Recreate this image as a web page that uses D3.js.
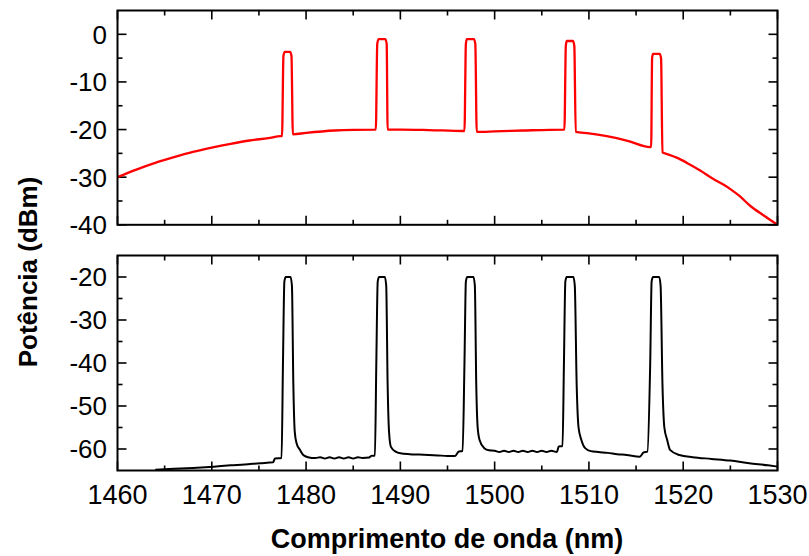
<!DOCTYPE html>
<html><head><meta charset="utf-8">
<script src="https://cdn.jsdelivr.net/npm/d3@7"></script>
<style>body{margin:0;background:#fff}svg{display:block}text{font-family:"Liberation Sans",Arial,sans-serif}</style>
</head><body><svg id="c" width="809" height="556"></svg>
<script>
// wavelength ticks
const xTicks = [1460,1470,1480,1490,1500,1510,1520,1530];
const topTicks = [-40,-30,-20,-10,0];
const botTicks = [-60,-50,-40,-30,-20];
// top (red) spectrum
const redWl = [1460,1462,1464,1466,1468,1470,1472,1474,1476,1477.3,1477.45,1477.6,1477.75,1478.3,1478.45,1478.6,
 1480,1483,1485,1487.3,1487.4,1487.55,1487.7,1488.4,1488.55,1488.65,
 1490,1493,1496.7,1496.8,1496.95,1497.05,1497.8,1497.95,1498.1,
 1500,1503,1507.3,1507.4,1507.55,1507.65,1508.3,1508.45,1508.6,
 1510,1511.9,1514,1516.5,1516.6,1516.7,1516.8,1517.5,1517.65,1517.8,
 1518.2,1519.3,1520.4,1521.8,1523.2,1524.3,1525,1526,1527.1,1528.5,1530];
const redDb = [-30,-28.4,-27.0,-25.8,-24.7,-23.8,-23.0,-22.3,-21.8,-21.4,-21.4,-4.5,-3.7,-3.7,-4.5,-21.0,
 -20.7,-20.2,-20.05,-20.0,-20.0,-2.0,-1.0,-1.0,-2.0,-20.0,
 -20.0,-20.1,-20.3,-20.3,-2.0,-1.0,-1.0,-2.0,-20.5,
 -20.4,-20.2,-20.0,-20.0,-2.4,-1.4,-1.4,-2.4,-20.5,
 -20.8,-21.4,-22.3,-23.7,-23.7,-5.0,-4.1,-4.1,-5.0,-24.8,
 -25.1,-25.9,-27.0,-28.6,-30.4,-31.6,-32.5,-34.0,-36.0,-38.0,-40];
// bottom (black) spectrum
const blackWl = [1464,1466,1468,1470.2,1472,1473.5,1475.1,1476.5,1476.7,1477.4,
 1477.55,1477.7,1477.85,1478.35,1478.5,1478.65,1478.8,1479.0,1479.35,1479.7,1480.2,
 1481,1481.5,1482,1482.5,1483,1483.5,1484,1484.5,1485,1485.5,1486,1486.7,1486.9,1487.3,
 1487.45,1487.6,1487.75,1488.35,1488.5,1488.65,1488.8,1489.0,1489.5,
 1490,1491,1492,1493,1494,1495,1495.8,1496.2,1496.6,
 1496.8,1496.95,1497.1,1497.75,1497.9,1498.05,1498.2,1498.4,1498.9,1499.4,
 1500,1500.5,1501,1501.5,1502,1502.5,1503,1503.5,1504,1504.5,1505,1505.5,1506,1506.6,1506.8,1507.2,
 1507.35,1507.5,1507.65,1508.35,1508.5,1508.7,1508.9,1509.2,1509.6,1510.2,
 1511,1512,1513,1514,1515.4,1515.8,1516.2,
 1516.5,1516.65,1516.8,1517.45,1517.6,1517.8,1518.0,1518.3,1518.6,1519.6,
 1521,1523,1525,1527,1529,1530];
const blackDb = [-64.8,-64.6,-64.4,-64.1,-63.8,-63.6,-63.3,-63.1,-62.2,-62.1,
 -40,-21,-20,-20,-22,-45,-56,-58.7,-60.2,-61.4,-61.9,
 -62.1,-61.9,-62.2,-61.9,-62.2,-61.9,-62.2,-61.9,-62.2,-61.9,-62.1,-62.0,-61.6,-61.5,
 -40,-21,-20,-20,-22,-45,-56,-59.5,-60.6,
 -61.0,-61.2,-61.3,-61.4,-61.5,-61.6,-61.6,-60.6,-60.5,
 -40,-21,-20,-20,-22,-45,-55,-57.9,-59.8,-60.3,
 -60.4,-60.7,-60.4,-60.7,-60.4,-60.7,-60.4,-60.7,-60.4,-60.7,-60.4,-60.7,-60.4,-60.7,-59.4,-59.3,
 -40,-21,-20,-20,-22,-45,-55,-57.9,-59.8,-60.5,
 -60.7,-60.9,-61.2,-61.4,-61.8,-60.8,-60.6,
 -40,-21,-20,-20,-22,-45,-55,-57.9,-60.2,-61.4,
 -61.9,-62.3,-62.7,-63.3,-63.8,-64.1];

const svg = d3.select("#c");
const x = d3.scaleLinear().domain([1460,1530]).range([117.5,777.5]);
const yTop = d3.scaleLinear().domain([-40,5]).range([224.8,10.5]);
const yBot = d3.scaleLinear().domain([-65,-15]).range([470.5,255.5]);

function panel(y, ticks, minor, wl, db, color, showX, lw){
  const g = svg.append("g");
  const [y0,y1] = y.range();
  const xMinor = d3.range(1465,1530,10);
  const tk = g.append("g").attr("stroke","#000").attr("stroke-width",1.6);
  xTicks.forEach(v=>{ tk.append("line").attr("x1",x(v)).attr("x2",x(v)).attr("y1",y0).attr("y2",y0-9);
                      tk.append("line").attr("x1",x(v)).attr("x2",x(v)).attr("y1",y1).attr("y2",y1+9);});
  xMinor.forEach(v=>{ tk.append("line").attr("x1",x(v)).attr("x2",x(v)).attr("y1",y0).attr("y2",y0-5);
                      tk.append("line").attr("x1",x(v)).attr("x2",x(v)).attr("y1",y1).attr("y2",y1+5);});
  ticks.forEach(v=>{ tk.append("line").attr("y1",y(v)).attr("y2",y(v)).attr("x1",x.range()[0]).attr("x2",x.range()[0]+9);
                     tk.append("line").attr("y1",y(v)).attr("y2",y(v)).attr("x1",x.range()[1]).attr("x2",x.range()[1]-9);});
  minor.forEach(v=>{ tk.append("line").attr("y1",y(v)).attr("y2",y(v)).attr("x1",x.range()[0]).attr("x2",x.range()[0]+5);
                     tk.append("line").attr("y1",y(v)).attr("y2",y(v)).attr("x1",x.range()[1]).attr("x2",x.range()[1]-5);});
  g.append("g").selectAll("text").data(ticks).join("text")
    .attr("x",107).attr("y",v=>y(v)).attr("dy","0.36em").attr("text-anchor","end")
    .attr("font-size",26).text(v=>v);
  if(showX){
    g.append("g").selectAll("text").data(xTicks).join("text")
      .attr("x",v=>x(v)).attr("y",504).attr("text-anchor","middle")
      .attr("font-size",27).text(v=>v);
  }
  const pts = wl.map((w,i)=>[w,db[i]]);
  g.append("path").datum(pts).attr("fill","none").attr("stroke",color).attr("stroke-width",lw)
    .attr("stroke-linejoin","round")
    .attr("d", d3.line().x(d=>x(d[0])).y(d=>y(d[1])).curve(d3.curveMonotoneX));
  g.append("rect").attr("x",x.range()[0]).attr("y",y1).attr("width",x.range()[1]-x.range()[0])
    .attr("height",y0-y1).attr("fill","none").attr("stroke","#000").attr("stroke-width",2);
}
panel(yTop, topTicks, [-35,-25,-15,-5], redWl, redDb, "#ff0000", false, 2.3);
panel(yBot, botTicks, [-55,-45,-35,-25], blackWl, blackDb, "#000", true, 2);

svg.append("text").attr("x",447).attr("y",548).attr("text-anchor","middle")
  .attr("font-size",27).attr("font-weight","bold").text("Comprimento de onda (nm)");
svg.append("text").attr("transform","translate(37,272) rotate(-90)").attr("text-anchor","middle")
  .attr("font-size",26).attr("font-weight","bold").text("Potência (dBm)");
</script></body></html>
